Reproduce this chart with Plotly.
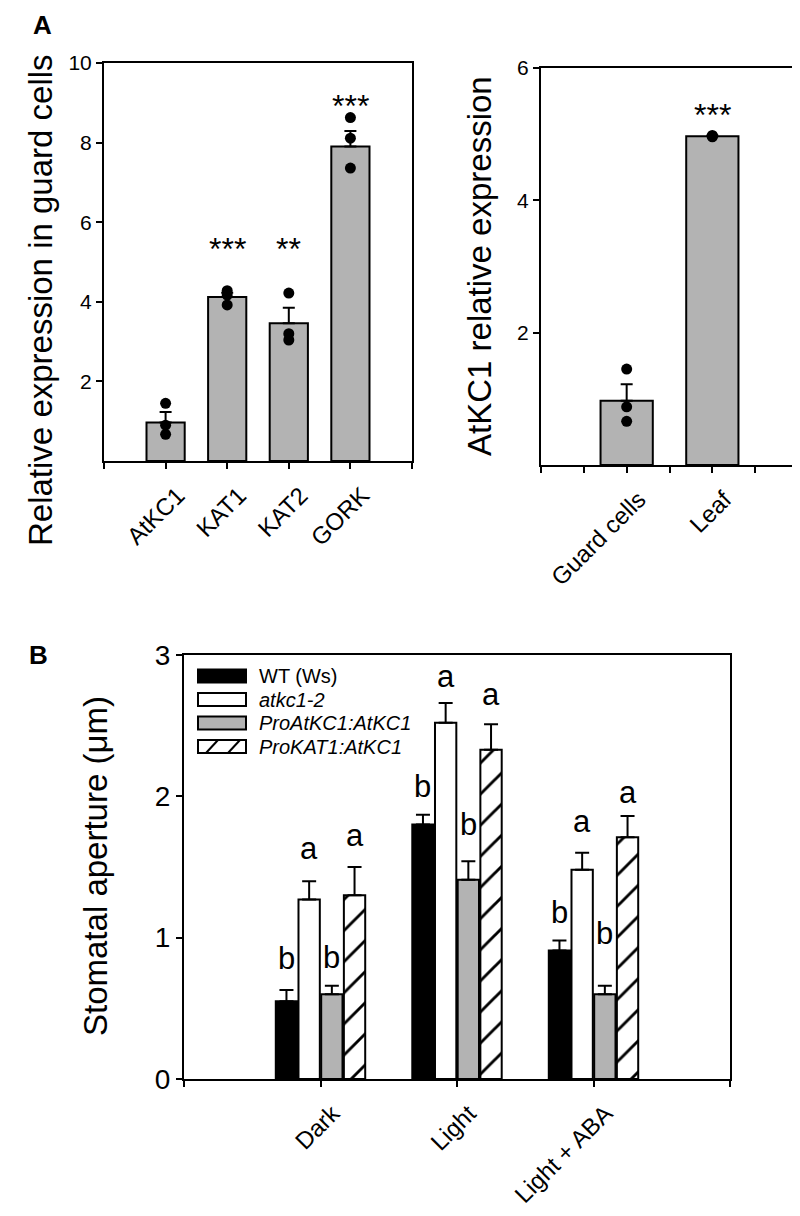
import plotly.graph_objects as go

# ---------------- data ----------------
genes = ["AtKC1", "KAT1", "KAT2", "GORK"]
gene_mean = [0.97, 4.12, 3.46, 7.90]
gene_sem = [0.26, 0.11, 0.39, 0.39]
gene_reps = [[1.45, 0.90, 0.67], [4.28, 4.17, 3.92], [4.22, 3.20, 3.04], [8.63, 8.11, 7.36]]
gene_sig = ["", "***", "**", "***"]
gene_sig_y = [0, 5.5, 5.5, 9.1]

tissues = ["Guard cells", "Leaf"]
tissue_mean = [0.97, 4.97]
tissue_sem = [0.25, 0.01]
tissue_reps = [[1.45, 0.88, 0.66], [4.98, 4.97, 4.96]]
tissue_sig = ["", "***"]
tissue_sig_y = [0, 5.4]

conditions = ["Dark", "Light", "Light + ABA"]
genotypes = ["WT (Ws)", "atkc1-2", "ProAtKC1:AtKC1", "ProKAT1:AtKC1"]
wt_mean = [0.55, 1.80, 0.91]
wt_sem = [0.08, 0.07, 0.07]
atkc1_mean = [1.27, 2.52, 1.48]
atkc1_sem = [0.13, 0.14, 0.12]
proatkc1_mean = [0.60, 1.41, 0.60]
proatkc1_sem = [0.06, 0.13, 0.06]
prokat1_mean = [1.30, 2.33, 1.71]
prokat1_sem = [0.20, 0.18, 0.15]
wt_letters = ["b", "b", "b"]
atkc1_letters = ["a", "a", "a"]
proatkc1_letters = ["b", "b", "b"]
prokat1_letters = ["a", "a", "a"]
wt_letter_y = [0.85, 2.07, 1.18]
atkc1_letter_y = [1.63, 2.85, 1.82]
proatkc1_letter_y = [0.86, 1.80, 1.03]
prokat1_letter_y = [1.72, 2.72, 2.03]

# ---------------- style ----------------
W, H = 800, 1216
FONT = "Arial, Liberation Sans, sans-serif"
GRAY = "#b3b3b3"


def px_x(x):
    return x / W


def px_y(y):
    return 1 - y / H


fig = go.Figure()

# ---- Panel A left ----
gx = list(range(len(genes)))
fig.add_trace(go.Bar(
    x=gx, y=gene_mean, width=0.62, xaxis="x", yaxis="y",
    marker=dict(color=GRAY, line=dict(color="black", width=2)),
    error_y=dict(type="data", symmetric=False, array=gene_sem,
                 arrayminus=[0] * len(genes), color="black", thickness=2, width=6),
    showlegend=False, name="guard cells"))
for i, reps in enumerate(gene_reps):
    fig.add_trace(go.Scatter(
        x=[gx[i]] * len(reps), y=reps, mode="markers", xaxis="x", yaxis="y",
        marker=dict(color="black", size=11), showlegend=False, hoverinfo="y"))

# ---- Panel A right ----
tx = list(range(len(tissues)))
fig.add_trace(go.Bar(
    x=tx, y=tissue_mean, width=0.61, xaxis="x2", yaxis="y2",
    marker=dict(color=GRAY, line=dict(color="black", width=2)),
    error_y=dict(type="data", symmetric=False, array=tissue_sem,
                 arrayminus=[0] * len(tissues), color="black", thickness=2, width=6),
    showlegend=False, name="tissue"))
for i, reps in enumerate(tissue_reps):
    fig.add_trace(go.Scatter(
        x=[tx[i]] * len(reps), y=reps, mode="markers", xaxis="x2", yaxis="y2",
        marker=dict(color="black", size=11), showlegend=False, hoverinfo="y"))

# ---- Panel B ----
cx = list(range(len(conditions)))
series = [
    (genotypes[0], wt_mean, wt_sem, dict(color="black", line=dict(color="black", width=2))),
    (genotypes[1], atkc1_mean, atkc1_sem, dict(color="white", line=dict(color="black", width=2))),
    (genotypes[2], proatkc1_mean, proatkc1_sem, dict(color=GRAY, line=dict(color="black", width=2))),
    (genotypes[3], prokat1_mean, prokat1_sem, dict(color="white", line=dict(color="black", width=2),
                                                   pattern=dict(shape="/", fgcolor="black", bgcolor="white",
                                                                fgopacity=1, size=22, solidity=0.13,
                                                                fillmode="replace"))),
]
for name, m, s, mk in series:
    fig.add_trace(go.Bar(
        x=cx, y=m, name=name, xaxis="x3", yaxis="y3", marker=mk,
        error_y=dict(type="data", symmetric=False, array=s, arrayminus=[0] * len(m),
                     color="black", thickness=2, width=7),
        showlegend=False))

BARGAP = 0.335
BARGROUPGAP = 0.06

annotations = []
# significance stars panel A
for i, t in enumerate(gene_sig):
    if t:
        annotations.append(dict(x=gx[i], y=gene_sig_y[i], xref="x", yref="y", text=t,
                                xanchor="center", yanchor="middle",
                                showarrow=False, font=dict(size=32, color="black", family=FONT),
                                yshift=-7))
for i, t in enumerate(tissue_sig):
    if t:
        annotations.append(dict(x=tx[i], y=tissue_sig_y[i], xref="x2", yref="y2", text=t,
                                xanchor="center", yanchor="middle",
                                showarrow=False, font=dict(size=32, color="black", family=FONT),
                                yshift=-7))

# letters panel B
slot = (1 - BARGAP) / len(genotypes)
letter_sets = [(wt_letters, wt_letter_y), (atkc1_letters, atkc1_letter_y),
               (proatkc1_letters, proatkc1_letter_y), (prokat1_letters, prokat1_letter_y)]
for k, (labs, ys) in enumerate(letter_sets):
    off = (k - (len(genotypes) - 1) / 2) * slot
    for i, lab in enumerate(labs):
        annotations.append(dict(x=cx[i] + off, y=ys[i], xref="x3", yref="y3", text=lab,
                                xanchor="center", yanchor="middle",
                                showarrow=False, font=dict(size=31, color="black", family=FONT)))

# axis titles and panel letters
title_font = dict(size=33, color="black", family=FONT)
annotations += [
    dict(x=px_x(33), y=px_y(292), xref="paper", yref="paper", text="Relative expression in guard cells",
         textangle=-90, xanchor="center", yanchor="middle", showarrow=False, font=title_font),
    dict(x=px_x(471), y=px_y(258), xref="paper", yref="paper", text="AtKC1 relative expression",
         textangle=-90, xanchor="center", yanchor="middle", showarrow=False, font=title_font),
    dict(x=px_x(87), y=px_y(858), xref="paper", yref="paper", text="Stomatal aperture (\u03bcm)",
         textangle=-90, xanchor="center", yanchor="middle", showarrow=False, font=title_font),
    dict(x=px_x(34), y=px_y(17), xref="paper", yref="paper", text="<b>A</b>",
         xanchor="center", yanchor="middle", showarrow=False,
         font=dict(size=26, color="black", family=FONT)),
    dict(x=px_x(30), y=px_y(647), xref="paper", yref="paper", text="<b>B</b>",
         xanchor="center", yanchor="middle", showarrow=False,
         font=dict(size=26, color="black", family=FONT)),
]

# custom legend for panel B
shapes = []
leg_rows = [668, 691.5, 715, 738.5]
leg_fill = ["black", "white", GRAY, "white"]
sx0, sx1, sh = 190, 238, 13
for r, yc in enumerate(leg_rows):
    shapes.append(dict(type="rect", xref="paper", yref="paper",
                       x0=px_x(sx0), x1=px_x(sx1), y0=px_y(yc + sh / 2), y1=px_y(yc - sh / 2),
                       fillcolor=leg_fill[r], line=dict(color="black", width=2)))
    label = genotypes[r] if r == 0 else "<i>" + genotypes[r] + "</i>"
    annotations.append(dict(x=px_x(249), y=px_y(yc), xref="paper", yref="paper", text=label,
                            xanchor="left", yanchor="middle", showarrow=False,
                            font=dict(size=20, color="black", family=FONT)))
yc = leg_rows[3]
for hx in (204, 226):
    shapes.append(dict(type="line", xref="paper", yref="paper",
                       x0=px_x(hx - 6), x1=px_x(hx + 6), y0=px_y(yc + sh / 2), y1=px_y(yc - sh / 2),
                       line=dict(color="black", width=2)))

axis_common = dict(showline=True, linecolor="black", linewidth=2, mirror=True,
                   showgrid=False, zeroline=False, ticks="outside", tickcolor="black",
                   tickwidth=2, ticklen=6, automargin=False)
xcat = dict(tickangle=-45, tickfont=dict(size=24), ticklabelshift=12, ticklabelstandoff=3)

fig.update_layout(
    template="none",
    width=W, height=H, margin=dict(l=0, r=0, t=0, b=0, pad=0), autosize=False,
    paper_bgcolor="white", plot_bgcolor="white",
    font=dict(family=FONT, color="black"),
    barmode="group", bargap=BARGAP, bargroupgap=BARGROUPGAP,
    showlegend=False,
    xaxis=dict(domain=[px_x(96), px_x(404)], anchor="y", range=[-1, len(genes)],
               tickvals=[-1] + gx + [len(genes)], ticktext=[""] + genes + [""],
               **xcat, **axis_common),
    yaxis=dict(domain=[px_y(453), px_y(55)], anchor="x", range=[0, 10],
               tickvals=[2, 4, 6, 8, 10], tickfont=dict(size=21), **axis_common),
    xaxis2=dict(domain=[px_x(533), px_x(790)], anchor="y2", range=[-1, len(tissues)],
                tickvals=[-1, -0.5, 0, 0.5, 1, 1.5, 2], ticktext=["", "", tissues[0], "", tissues[1], "", ""],
                **xcat, **axis_common),
    yaxis2=dict(domain=[px_y(457), px_y(60)], anchor="x2", range=[0, 6],
                tickvals=[2, 4, 6], tickfont=dict(size=21), **axis_common),
    xaxis3=dict(domain=[px_x(176), px_x(722)], anchor="y3", range=[-1, len(conditions)],
                tickvals=[-1] + cx + [len(conditions)], ticktext=[""] + conditions + [""],
                **xcat, **axis_common),
    yaxis3=dict(domain=[px_y(1071), px_y(647)], anchor="x3", range=[0, 3],
                tickvals=[0, 1, 2, 3], tickfont=dict(size=28), **axis_common),
    annotations=annotations,
    shapes=shapes,
)

fig.write_html("out.html")
